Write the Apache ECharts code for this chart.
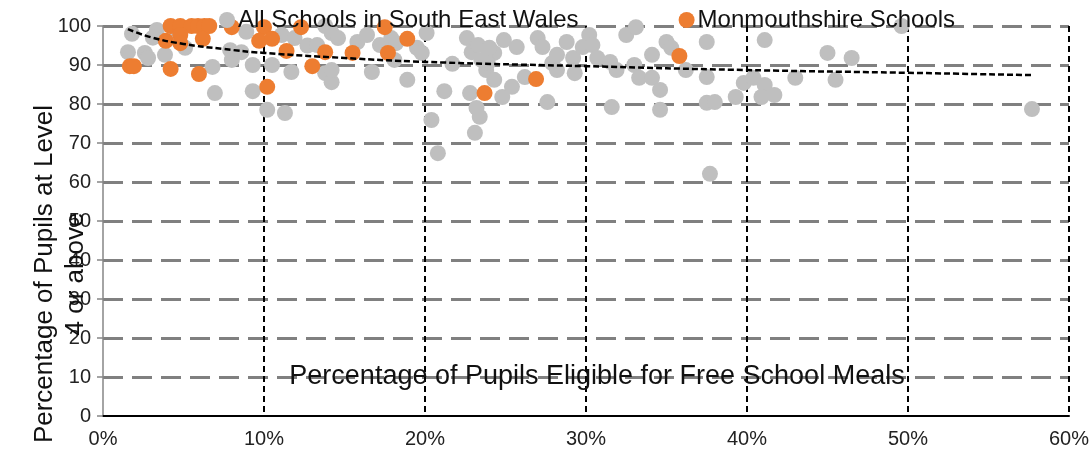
<!DOCTYPE html>
<html>
<head>
<meta charset="utf-8">
<title>Level 4 vs FSM</title>
<script src="https://cdn.jsdelivr.net/npm/echarts@6/dist/echarts.min.js"></script>
<style>
  html, body { margin: 0; padding: 0; background: #fff; }
  #chart { width: 1092px; height: 453px; }
</style>
</head>
<body>
<div id="chart"></div>
<script>
// data: % eligible for FSM (x) vs % pupils at Level 4+ (y)
const schoolsFsm = [
  1.8, 1.55, 2.6, 2.8, 3.35, 3.1, 3.85, 5.1, 4.6, 6.8,
  6.95, 7.9, 8.0, 8.6, 9.3, 9.3, 10.2, 11.3, 10.5, 11.7,
  8.9, 11.1, 11.9, 12.7, 13.3, 13.8, 13.8, 14.2, 14.2, 14.6,
  14.2, 15.8, 16.4, 16.7, 17.2, 17.9, 18.2, 18.1, 18.9, 19.5,
  19.8, 20.1, 20.4, 20.8, 21.2, 21.7, 22.6, 22.9, 23.3, 22.8,
  23.2, 23.4, 23.1, 23.5, 23.8, 24.0, 24.3, 24.0, 23.9, 24.3,
  24.9, 24.8, 25.4, 25.7, 26.2, 27.0, 27.3, 27.6, 27.9, 28.2,
  28.2, 29.3, 28.8, 29.2, 29.8, 30.2, 30.4, 30.7, 31.5, 31.9,
  31.6, 32.5, 33.1, 33.0, 33.3, 34.1, 34.1, 34.6, 34.6, 35.0,
  35.3, 36.2, 37.5, 37.5, 37.5, 38.0, 37.7, 39.3, 39.8, 40.4,
  41.1, 41.1, 40.9, 41.7, 43.0, 45.0, 46.5, 45.5, 49.6, 57.7
];
const schoolsLevel4 = [
  98, 93.3, 93.1, 91.8, 99, 97, 92.6, 94.4, 97.7, 89.5,
  82.8, 93.8, 91.3, 93.3, 90, 83.3, 78.5, 77.7, 90, 88.2,
  98.5, 97.7, 96.9, 95, 95.1, 87.9, 100, 85.6, 98.2, 96.9,
  88.7, 95.9, 97.7, 88.2, 95.1, 96.9, 95.6, 91.3, 86.2, 94.4,
  93.1, 98.2, 75.9, 67.4, 83.3, 90.3, 96.9, 93.3, 95.1, 82.8,
  79, 76.7, 72.6, 91.3, 88.7, 93.3, 93.1, 94.4, 90.5, 86.2,
  96.4, 81.8, 84.4, 94.6, 86.9, 96.9, 94.6, 80.5, 90.5, 92.6,
  88.7, 87.9, 95.9, 91.8, 94.6, 97.7, 95.1, 91.8, 90.8, 88.7,
  79.2, 97.7, 99.7, 90, 86.7, 92.6, 86.7, 83.6, 78.5, 95.9,
  94.4, 88.7, 95.9, 86.9, 80.3, 80.5, 62.1, 81.8, 85.4, 86.7,
  96.4, 84.9, 81.8, 82.3, 86.7, 93.1, 91.8, 86.2, 100, 78.7
];

const monFsm = [
  1.67, 1.92, 4.2, 4.8, 5.5, 5.9, 6.3, 6.6, 4.8, 3.9,
  4.8, 6.2, 4.2, 5.96, 8.0, 10.0, 9.7, 10.5, 10.2, 11.4,
  12.3, 13.8, 13.0, 15.5, 17.5, 17.7, 18.9, 23.7, 26.9, 35.8
];
const monLevel4 = [
  89.7, 89.7, 100, 100, 100, 100, 100, 100, 97.7, 96.2,
  95.6, 96.7, 89, 87.7, 99.7, 99.7, 96.2, 96.7, 84.4, 93.6,
  99.7, 93.3, 89.7, 93.1, 99.7, 93.1, 96.7, 82.8, 86.4, 92.3
];

// trend line
const trendFsm = [1.55, 3, 5, 7.5, 10, 15, 20, 30, 40, 50, 57.7];
const trendLevel4 = [99.2, 97.1, 95.4, 94.1, 93.1, 91.8, 90.8, 89.7, 88.7, 88.0, 87.4];

const seriesNames = ['All Schools in South East Wales', 'Monmouthshire Schools'];

function pairs(xs, ys) {
  return xs.map((x, i) => [x, ys[i]]);
}

const chart = echarts.init(document.getElementById('chart'));
const FONT = 'Liberation Sans, Arial, sans-serif';

chart.setOption({
  animation: false,
  textStyle: { fontFamily: FONT },
  grid: { left: 103, right: 22, top: 26, bottom: 37 },
  legend: {
    data: seriesNames,
    left: 214,
    top: 3,
    itemWidth: 16,
    itemHeight: 16,
    itemGap: 100,
    icon: 'circle',
    textStyle: { fontSize: 24, color: '#111', fontFamily: FONT, padding: [0, 0, 0, -2] }
  },
  xAxis: {
    type: 'value',
    min: 0,
    max: 60,
    interval: 10,
    axisLine: { show: true, onZero: false, lineStyle: { color: '#000', width: 2 } },
    axisTick: { show: false },
    axisLabel: { formatter: '{value}%', fontSize: 20, color: '#222', margin: 13 },
    splitLine: {
      show: true,
      showMinLine: false,
      lineStyle: { color: '#000', width: 2, type: [6, 4] }
    }
  },
  yAxis: {
    type: 'value',
    min: 0,
    max: 100,
    interval: 10,
    axisLine: { show: true, lineStyle: { color: '#868686', width: 1.5 } },
    axisTick: { show: true, inside: false, length: 6, lineStyle: { color: '#868686', width: 1.5 } },
    axisLabel: { fontSize: 20, color: '#222', margin: 12 },
    splitLine: {
      show: true,
      showMinLine: false,
      lineStyle: { color: '#808080', width: 3, type: [20, 9] }
    }
  },
  graphic: [
    {
      type: 'text',
      x: 60,
      y: 274,
      rotation: Math.PI / 2,
      z: 10,
      style: {
        text: 'Percentage of Pupils at Level\n4 or above',
        font: '26px ' + FONT,
        fill: '#111',
        align: 'center',
        verticalAlign: 'middle',
        lineHeight: 31
      }
    },
    {
      type: 'text',
      x: 597,
      y: 377,
      z: 10,
      style: {
        text: 'Percentage of Pupils Eligible for Free School Meals',
        font: '27px ' + FONT,
        fill: '#111',
        align: 'center',
        verticalAlign: 'middle'
      }
    }
  ],
  series: [
    {
      name: seriesNames[0],
      type: 'scatter',
      symbolSize: 16,
      itemStyle: { color: '#bfbfbf', opacity: 1 },
      data: pairs(schoolsFsm, schoolsLevel4),
      z: 2
    },
    {
      name: seriesNames[1],
      type: 'scatter',
      symbolSize: 16,
      itemStyle: { color: '#ed7d31', opacity: 1 },
      data: pairs(monFsm, monLevel4),
      z: 3
    },
    {
      name: 'trend',
      type: 'line',
      smooth: true,
      showSymbol: false,
      symbol: 'none',
      lineStyle: { color: '#000', width: 2.5, type: [6, 3] },
      data: pairs(trendFsm, trendLevel4),
      z: 4
    }
  ]
});
</script>
</body>
</html>
